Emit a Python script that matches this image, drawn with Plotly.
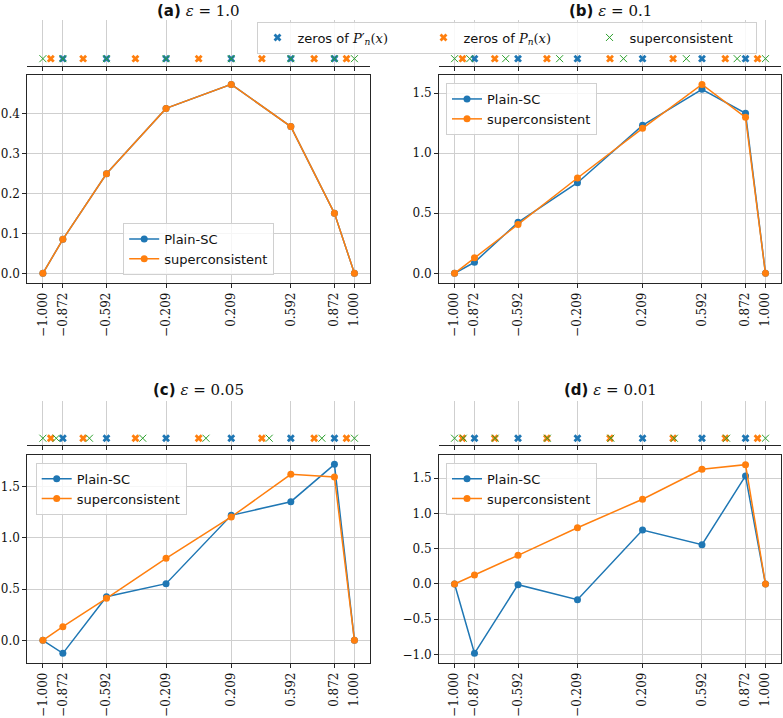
import plotly.graph_objects as go

# ---------------- data ----------------
nodes = [-1.0, -0.8717401485, -0.5917001814, -0.2092992179,
         0.2092992179, 0.5917001814, 0.8717401485, 1.0]
tick_labels = ["−1.000", "−0.872", "−0.592", "−0.209",
               "0.209", "0.592", "0.872", "1.000"]

zeros_dP = [-0.8717401485, -0.5917001814, -0.2092992179,
            0.2092992179, 0.5917001814, 0.8717401485]
zeros_P = [-0.9491079123, -0.7415311856, -0.4058451514, 0.0,
           0.4058451514, 0.7415311856, 0.9491079123]

sc_a = [-1.0, -0.8717, -0.5917, -0.2093, 0.2093, 0.5917, 0.8717, 1.0]
sc_b = [-1.0, -0.902, -0.671, -0.324, 0.087, 0.491, 0.818, 1.0]
sc_c = [-1.0, -0.914, -0.701, -0.359, 0.047, 0.453, 0.791, 1.0]
sc_d = [-1.0, -0.944, -0.739, -0.403, 0.005, 0.414, 0.750, 1.0]

plain_a = [0.0, 0.085, 0.249, 0.4125, 0.4725, 0.367, 0.150, 0.0]
super_a = [0.0, 0.085, 0.249, 0.4125, 0.4725, 0.367, 0.150, 0.0]
plain_b = [0.0, 0.092, 0.424, 0.754, 1.231, 1.531, 1.331, 0.0]
super_b = [0.0, 0.130, 0.407, 0.793, 1.206, 1.572, 1.298, 0.0]
plain_c = [0.0, -0.127, 0.425, 0.552, 1.218, 1.351, 1.715, 0.0]
super_c = [0.0, 0.133, 0.409, 0.799, 1.202, 1.618, 1.592, 0.0]
plain_d = [0.0, -0.982, -0.010, -0.222, 0.765, 0.557, 1.530, 0.0]
super_d = [0.0, 0.127, 0.406, 0.797, 1.200, 1.625, 1.690, 0.0]

eps_labels = ["1.0", "0.1", "0.05", "0.01"]
panel_letters = ["a", "b", "c", "d"]

yticks_a = [0.0, 0.1, 0.2, 0.3, 0.4]
yticks_b = [0.0, 0.5, 1.0, 1.5]
yticks_c = [0.0, 0.5, 1.0, 1.5]
yticks_d = [-1.0, -0.5, 0.0, 0.5, 1.0, 1.5]

# ---------------- layout helpers ----------------
W, H = 783, 718
def fx(px): return px / W
def fy(py): return 1 - py / H

BLUE, ORANGE, GREEN = "#1f77b4", "#ff7f0e", "#2ca02c"
SERIF = "DejaVu Serif"
SANS = "DejaVu Sans"
GRID = "#cfcfcf"
SPINE = "#262626"

def fmt(v):
    s = f"{v:.1f}"
    return s.replace("-", "−")

panels = [
    dict(plain=plain_a, sup=super_a, sc=sc_a, yr=[-0.0235, 0.496], yt=yticks_a,
         x0=27.3, x1=370, y0=75, y1=282.7, s0=20, s1=66, ty=11,
         leg=dict(x=fx(198.7), y=fy(275), xanchor="center", yanchor="bottom")),
    dict(plain=plain_b, sup=super_b, sc=sc_b, yr=[-0.078, 1.65], yt=yticks_b,
         x0=439, x1=781, y0=75, y1=282.7, s0=20, s1=66, ty=11,
         leg=dict(x=fx(446), y=fy(83), xanchor="left", yanchor="top")),
    dict(plain=plain_c, sup=super_c, sc=sc_c, yr=[-0.218, 1.806], yt=yticks_c,
         x0=27.3, x1=370, y0=455, y1=662.7, s0=401, s1=445.3, ty=390,
         leg=dict(x=fx(35.7), y=fy(462.7), xanchor="left", yanchor="top")),
    dict(plain=plain_d, sup=super_d, sc=sc_d, yr=[-1.115, 1.827], yt=yticks_d,
         x0=439, x1=781, y0=455, y1=662.7, s0=401, s1=445.3, ty=390,
         leg=dict(x=fx(446), y=fy(462.7), xanchor="left", yanchor="top")),
]

fig = go.Figure()
layout = dict(
    width=W, height=H, margin=dict(l=0, r=0, t=0, b=0),
    paper_bgcolor="white", plot_bgcolor="white",
    font=dict(family=SANS, size=13, color="#111"),
    annotations=[],
)

XR = [-1.1, 1.1]

for i, p in enumerate(panels):
    mi = 2 * i + 1  # main axis index
    si = 2 * i + 2  # strip axis index
    mx = "x" if mi == 1 else f"x{mi}"
    my = "y" if mi == 1 else f"y{mi}"
    sx, sy = f"x{si}", f"y{si}"
    mkx = "xaxis" if mi == 1 else f"xaxis{mi}"
    mky = "yaxis" if mi == 1 else f"yaxis{mi}"
    leg_name = f"legend{i + 2}"

    # main axes
    layout[mkx] = dict(domain=[fx(p["x0"]), fx(p["x1"])], range=XR, anchor=my,
                       tickmode="array", tickvals=nodes, ticktext=tick_labels,
                       tickangle=-90, tickfont=dict(family=SERIF, size=12, color="#111"),
                       ticks="outside", ticklen=4, tickcolor=SPINE,
                       showgrid=True, gridcolor=GRID, gridwidth=1,
                       showline=True, linecolor=SPINE, linewidth=1, mirror=True,
                       zeroline=False)
    layout[mky] = dict(domain=[fy(p["y1"]), fy(p["y0"])], range=p["yr"], anchor=mx,
                       tickmode="array", tickvals=p["yt"], ticktext=[fmt(v) for v in p["yt"]],
                       tickfont=dict(family=SERIF, size=12, color="#111"),
                       ticks="outside", ticklen=4, tickcolor=SPINE,
                       showgrid=True, gridcolor=GRID, gridwidth=1,
                       showline=True, linecolor=SPINE, linewidth=1, mirror=True,
                       zeroline=False)
    # strip axes
    layout[f"xaxis{si}"] = dict(domain=[fx(p["x0"]), fx(p["x1"])], range=XR, anchor=sy,
                                tickmode="array", tickvals=nodes, showticklabels=False,
                                ticks="outside", ticklen=4, tickcolor=SPINE,
                                showgrid=True, gridcolor=GRID, gridwidth=1,
                                showline=True, linecolor=SPINE, linewidth=1, mirror=False,
                                zeroline=False)
    layout[f"yaxis{si}"] = dict(domain=[fy(p["s1"]), fy(p["s0"])], range=[-0.19, 1.0],
                                anchor=sx, visible=False, showgrid=False, zeroline=False)

    # panel legend
    layout[leg_name] = dict(**p["leg"], bgcolor="rgba(255,255,255,0.8)",
                            bordercolor="#d0d0d0", borderwidth=1,
                            font=dict(family=SANS, size=13, color="#111"),
                            tracegroupgap=2)

    # title
    layout["annotations"].append(dict(
        x=fx((p["x0"] + p["x1"]) / 2), y=fy(p["ty"]), xref="paper", yref="paper",
        xanchor="center", yanchor="middle", showarrow=False,
        text=f"<b>({panel_letters[i]})</b> <span style=\"font-family:{SERIF}\"><i>ε</i> = {eps_labels[i]}</span>",
        font=dict(family=SANS, size=15, color="#111")))

    # main traces
    fig.add_trace(go.Scatter(x=nodes, y=p["plain"], mode="lines+markers", name="Plain-SC",
                             line=dict(color=BLUE, width=1.5), marker=dict(color=BLUE, size=7),
                             xaxis=mx, yaxis=my, legend=leg_name))
    fig.add_trace(go.Scatter(x=nodes, y=p["sup"], mode="lines+markers", name="superconsistent",
                             line=dict(color=ORANGE, width=1.5), marker=dict(color=ORANGE, size=7),
                             xaxis=mx, yaxis=my, legend=leg_name))

    # strip traces
    show = (i == 0)
    fig.add_trace(go.Scatter(x=zeros_dP, y=[0] * len(zeros_dP), mode="markers",
                             name="zeros of <span style=\"font-family:%s\"><i>P</i>′<sub><i>n</i></sub>(<i>x</i>)</span>" % SERIF,
                             marker=dict(symbol="x", color=BLUE, size=7, line=dict(width=0)),
                             xaxis=sx, yaxis=sy, showlegend=show, legend="legend"))
    fig.add_trace(go.Scatter(x=zeros_P, y=[0] * len(zeros_P), mode="markers",
                             name="zeros of <span style=\"font-family:%s\"><i>P</i><sub><i>n</i></sub>(<i>x</i>)</span>" % SERIF,
                             marker=dict(symbol="x", color=ORANGE, size=7, line=dict(width=0)),
                             xaxis=sx, yaxis=sy, showlegend=show, legend="legend"))
    fig.add_trace(go.Scatter(x=p["sc"], y=[0] * len(p["sc"]), mode="markers",
                             name="superconsistent",
                             marker=dict(symbol="x-thin", color=GREEN, size=7,
                                         line=dict(width=1, color=GREEN)),
                             xaxis=sx, yaxis=sy, showlegend=show, legend="legend"))

layout["legend"] = dict(orientation="h", x=fx(506.5), y=fy(37.5), xanchor="center",
                        yanchor="middle", bgcolor="rgba(255,255,255,0.85)",
                        bordercolor="#d0d0d0", borderwidth=1,
                        entrywidth=121, entrywidthmode="pixels",
                        font=dict(family=SANS, size=13, color="#111"))

fig.update_layout(**layout)
fig.write_html("out.html")
